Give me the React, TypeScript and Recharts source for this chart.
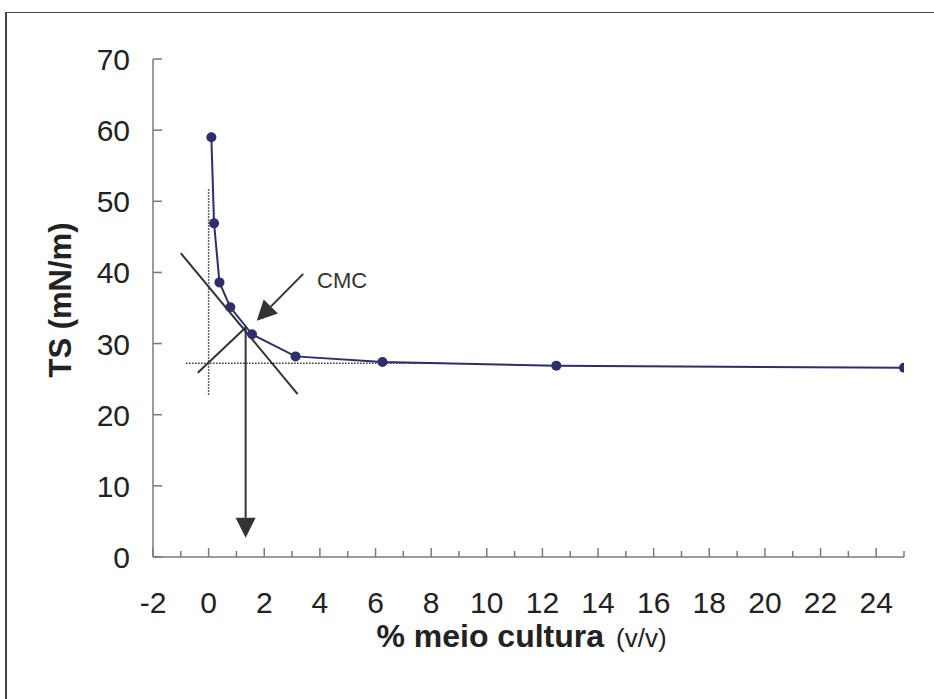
import React from 'react';
import { ScatterChart, Scatter, XAxis, YAxis, ReferenceLine, ReferenceDot } from 'recharts';

// Culture medium concentration (% v/v) and surface tension (mN/m)
const concentration = [0.098, 0.195, 0.39, 0.78, 1.56, 3.125, 6.25, 12.5, 25];
const tension = [59.0, 46.9, 38.6, 35.1, 31.3, 28.2, 27.4, 26.9, 26.6];

const xTicks = [-2, -1, 0, 1, 2, 3, 4, 5, 6, 7, 8, 9, 10, 11, 12, 13, 14, 15, 16, 17, 18, 19, 20, 21, 22, 23, 24, 25];
const yTicks = [0, 10, 20, 30, 40, 50, 60, 70];

// Annotation geometry in data units
const dottedVertical = [{ x: 0, y: 51.7 }, { x: 0, y: 22.6 }];
const dottedHorizontal = [{ x: -0.81, y: 27.25 }, { x: 8.4, y: 27.25 }];
const tangentSteep = [{ x: -1.0, y: 42.7 }, { x: 3.2, y: 22.9 }];
const tangentFlat = [{ x: -0.39, y: 25.9 }, { x: 1.37, y: 32.4 }];
const cmcArrow = [{ x: 3.4, y: 39.8 }, { x: 1.73, y: 33.2 }];
const downArrow = [{ x: 1.33, y: 32.3 }, { x: 1.33, y: 2.7 }];
const cmcLabel = { x: 3.9, y: 38.8, text: 'CMC' };

const data = concentration.map((c, i) => ({ x: c, y: tension[i] }));

const FONT = 'Liberation Sans, Arial, sans-serif';
const SERIES = '#2E2E6A';
const INK = '#333333';
const AXIS = '#7a7a7a';

const ArrowShape = (props: any) => {
  const { x1, y1, x2, y2 } = props;
  const dx = x2 - x1;
  const dy = y2 - y1;
  const len = Math.sqrt(dx * dx + dy * dy) || 1;
  const ux = dx / len;
  const uy = dy / len;
  const L = 20;
  const W = 10;
  const bx = x2 - ux * L;
  const by = y2 - uy * L;
  const px = -uy * W;
  const py = ux * W;
  return (
    <g>
      <line x1={x1} y1={y1} x2={bx} y2={by} stroke={INK} strokeWidth={2} />
      <polygon points={`${x2},${y2} ${bx + px},${by + py} ${bx - px},${by - py}`} fill={INK} />
    </g>
  );
};

const XTick = (props: any) => {
  const { x, y, payload } = props;
  const v = payload.value;
  const major = v % 2 === 0;
  return (
    <g>
      <line x1={x} y1={y} x2={x} y2={y - (major ? 9 : 6)} stroke={AXIS} strokeWidth={1.5} />
      {major && (
        <text x={x} y={y + 56} textAnchor="middle" fontSize={30} fontFamily={FONT} fill="#222">
          {v}
        </text>
      )}
    </g>
  );
};

const YTick = (props: any) => {
  const { x, y, payload } = props;
  return (
    <g>
      <line x1={x} y1={y} x2={x + 9} y2={y} stroke={AXIS} strokeWidth={1.5} />
      <text x={x - 23} y={y + 11} textAnchor="end" fontSize={30} fontFamily={FONT} fill="#222">
        {payload.value}
      </text>
    </g>
  );
};

const XTitle = (props: any) => {
  const vb = props.viewBox || {};
  const cx = vb.x + vb.width / 2 - 7;
  return (
    <text x={cx} y={vb.y + 90} textAnchor="middle" fontFamily={FONT} fill="#222">
      <tspan fontSize={32} fontWeight="bold">% meio cultura</tspan>
      <tspan fontSize={26} dx={12}>(v/v)</tspan>
    </text>
  );
};

const YTitle = (props: any) => {
  const vb = props.viewBox || {};
  const cx = 60;
  const cy = vb.y + vb.height / 2 - 8;
  return (
    <text
      x={cx}
      y={cy}
      transform={`rotate(-90, ${cx}, ${cy})`}
      textAnchor="middle"
      dominantBaseline="central"
      fontSize={31}
      fontWeight="bold"
      fontFamily={FONT}
      fill="#222"
    >
      TS (mN/m)
    </text>
  );
};

const CmcText = (props: any) => (
  <text x={props.cx} y={props.cy} dominantBaseline="central" fontSize={22} fontFamily={FONT} fill={INK}>
    {cmcLabel.text}
  </text>
);

const Dot = (props: any) => <circle cx={props.cx} cy={props.cy} r={5} fill={SERIES} />;

export default function App() {
  return (
    <div style={{ position: 'absolute', left: 0, top: 0, width: 934, height: 699, overflow: 'hidden', background: '#fff' }}>
      <div
        style={{
          position: 'absolute',
          left: 5,
          top: 12,
          width: 1000,
          height: 1000,
          borderLeft: '2px solid #444',
          borderTop: '1.5px solid #444',
        }}
      />
      <div style={{ position: 'absolute', left: 0, top: 0 }}>
        <ScatterChart width={934} height={699} margin={{ top: 59, right: 30, bottom: 0, left: 0 }}>
          <XAxis
            type="number"
            dataKey="x"
            domain={[-2, 25]}
            ticks={xTicks}
            interval={0}
            tickSize={0}
            tickMargin={0}
            tickLine={false}
            tick={<XTick />}
            height={142}
            axisLine={{ stroke: AXIS, strokeWidth: 1.5 }}
            allowDataOverflow
            label={<XTitle />}
          />
          <YAxis
            type="number"
            dataKey="y"
            domain={[0, 70]}
            ticks={yTicks}
            interval={0}
            tickSize={0}
            tickMargin={0}
            tickLine={false}
            tick={<YTick />}
            width={153}
            axisLine={{ stroke: AXIS, strokeWidth: 1.5 }}
            allowDataOverflow
            label={<YTitle />}
          />
          <ReferenceLine segment={dottedVertical} stroke={INK} strokeWidth={1.5} strokeDasharray="1.5 1.5" />
          <ReferenceLine segment={dottedHorizontal} stroke={INK} strokeWidth={1.5} strokeDasharray="1.5 1.5" />
          <ReferenceLine segment={tangentSteep} stroke={INK} strokeWidth={2} />
          <ReferenceLine segment={tangentFlat} stroke={INK} strokeWidth={2} />
          <ReferenceLine segment={cmcArrow} shape={ArrowShape} />
          <ReferenceLine segment={downArrow} shape={ArrowShape} />
          <ReferenceDot x={cmcLabel.x} y={cmcLabel.y} r={0} shape={CmcText} />
          <Scatter
            data={data}
            isAnimationActive={false}
            line={{ stroke: SERIES, strokeWidth: 2 }}
            lineType="joint"
            fill={SERIES}
            shape={Dot}
          />
        </ScatterChart>
      </div>
    </div>
  );
}
